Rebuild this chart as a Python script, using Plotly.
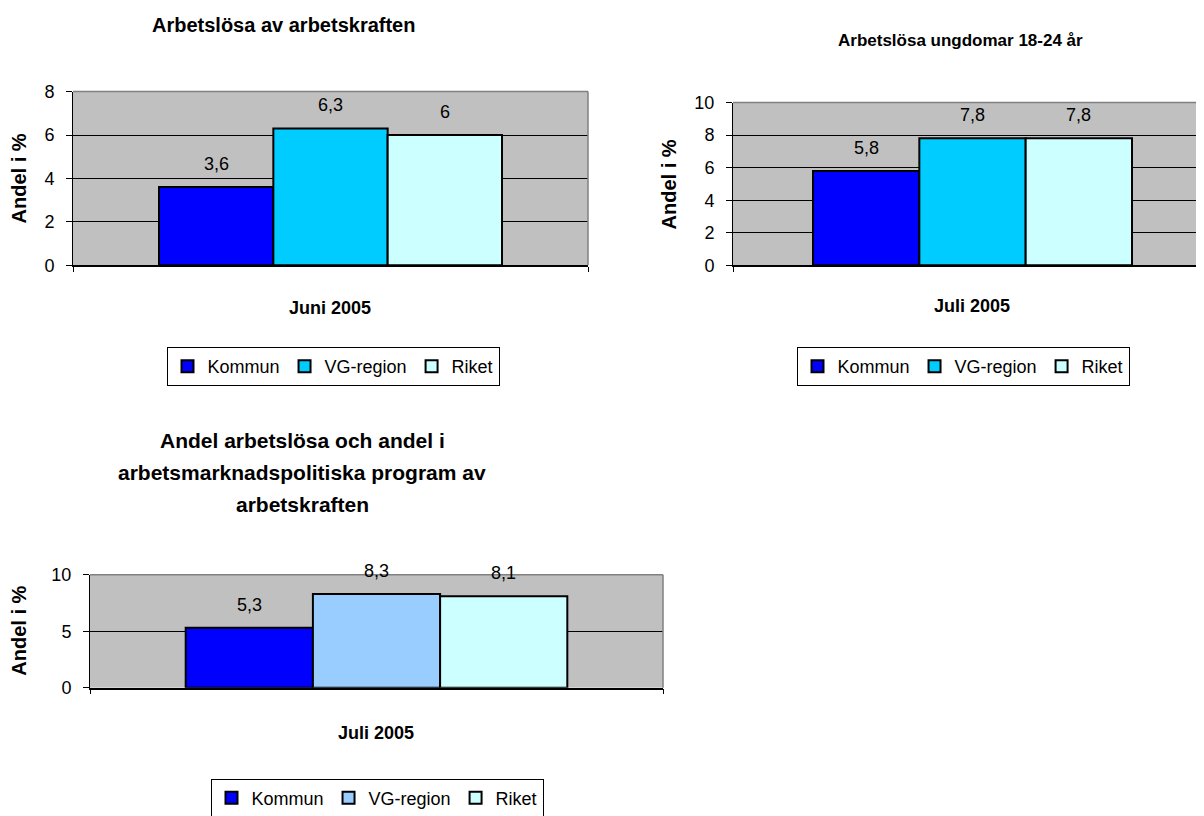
import plotly.graph_objects as go

W, H = 1204, 816
OFF = 8  # default page margin of the html body


def px(x):
    return (x - OFF) / W


def py(y):
    y_eff = (y - 9.5) / 0.977
    return 1 - (y_eff - OFF) / H


# ---------------- data ----------------
series = ["Kommun", "VG-region", "Riket"]

cats1 = ["Juni 2005"]
vals1 = [3.6, 6.3, 6.0]

cats2 = ["Juli 2005"]
vals2 = [5.8, 7.8, 7.8]

cats3 = ["Juli 2005"]
vals3 = [5.3, 8.3, 8.1]

colors_a = ["#0000FF", "#00CCFF", "#CCFFFF"]
colors_b = ["#0000FF", "#99CCFF", "#CCFFFF"]

title1 = "Arbetslösa av arbetskraften"
title2 = "Arbetslösa ungdomar 18-24 år"
title3_lines = ["Andel arbetslösa och andel i",
                "arbetsmarknadspolitiska program av",
                "arbetskraften"]
ytitle = "Andel i %"

FONT = "Liberation Sans, Arial, sans-serif"
BARGAP = 0.334

charts = [
    dict(s="", cats=cats1, vals=vals1, colors=colors_a, legend="legend",
         xdom=[px(73), px(588)], ydom=[py(265), py(91)], yr=[0, 8], dtick=2,
         xr=[-0.5, 0.5], right=True),
    dict(s="2", cats=cats2, vals=vals2, colors=colors_a, legend="legend2",
         xdom=[px(733), 1.0], ydom=[py(265), py(102)], yr=[0, 10], dtick=2,
         xr=[-0.5, 0.5], right=False),
    dict(s="3", cats=cats3, vals=vals3, colors=colors_b, legend="legend3",
         xdom=[px(90), px(663)], ydom=[py(688), py(575)], yr=[0, 10], dtick=5,
         xr=[-0.5, 0.5], right=True),
]

fig = go.Figure()
annotations = []
shapes = []
layout = {}


def fmt(v):
    return ("%g" % v).replace(".", ",")


w = (1 - BARGAP) / len(series)

for c in charts:
    s = c["s"]
    for i, name in enumerate(series):
        fig.add_trace(go.Bar(
            x=c["cats"], y=[c["vals"][i]], name=name,
            marker=dict(color=c["colors"][i], line=dict(color="black", width=2)),
            xaxis="x" + s, yaxis="y" + s, legend=c["legend"],
        ))
        annotations.append(dict(
            x=(i - (len(series) - 1) / 2) * w, y=c["vals"][i],
            xref="x" + s, yref="y" + s, text=fmt(c["vals"][i]),
            showarrow=False, yanchor="middle", yshift=23,
            font=dict(family=FONT, size=18, color="black")))
    layout["xaxis" + s] = dict(
        domain=c["xdom"], anchor="y" + s, range=c["xr"], type="category",
        showticklabels=False, ticks="outside", tickson="boundaries",
        ticklen=5, tickcolor="black", showline=True, linecolor="black",
        linewidth=1.5, showgrid=False, zeroline=False, fixedrange=True)
    layout["yaxis" + s] = dict(
        domain=c["ydom"], anchor="x" + s, range=c["yr"], dtick=c["dtick"],
        ticks="outside", ticklen=6, tickcolor="black", showline=True,
        linecolor="black", linewidth=1, showgrid=True, gridcolor="black",
        gridwidth=1, zeroline=False, ticklabelstandoff=8,
        tickfont=dict(family=FONT, size=18, color="black"), fixedrange=True)
    shapes.append(dict(type="line", xref="x%s domain" % s, yref="y%s domain" % s,
                       x0=0, x1=1, y0=1, y1=1, line=dict(color="#808080", width=1.5)))
    if c["right"]:
        shapes.append(dict(type="line", xref="x%s domain" % s, yref="y%s domain" % s,
                           x0=1, x1=1, y0=0, y1=1, line=dict(color="#808080", width=1.5)))

# titles
annotations.append(dict(x=px(283), y=py(24), xref="paper", yref="paper", text="<b>%s</b>" % title1,
                        showarrow=False, xanchor="center", yanchor="middle",
                        font=dict(family=FONT, size=20, color="black")))
annotations.append(dict(x=px(960), y=py(40), xref="paper", yref="paper", text="<b>%s</b>" % title2,
                        showarrow=False, xanchor="center", yanchor="middle",
                        font=dict(family=FONT, size=17, color="black")))
for line, yy in zip(title3_lines, [440, 473, 505]):
    annotations.append(dict(x=px(302), y=py(yy), xref="paper", yref="paper", text="<b>%s</b>" % line,
                            showarrow=False, xanchor="center", yanchor="middle",
                            font=dict(family=FONT, size=21, color="black")))

# axis titles
for xx, yy in [(19, 178), (669, 184), (19, 631)]:
    annotations.append(dict(x=px(xx), y=py(yy), xref="paper", yref="paper", text="<b>%s</b>" % ytitle,
                            showarrow=False, textangle=-90, xanchor="center", yanchor="middle",
                            font=dict(family=FONT, size=20, color="black")))
for c, xx, yy in [(charts[0], 330, 308), (charts[1], 972, 306), (charts[2], 376, 733)]:
    annotations.append(dict(x=px(xx), y=py(yy), xref="paper", yref="paper",
                            text="<b>%s</b>" % c["cats"][0],
                            showarrow=False, xanchor="center", yanchor="middle",
                            font=dict(family=FONT, size=18, color="black")))

legend_common = dict(orientation="h", xanchor="center", yanchor="top",
                     bordercolor="black", borderwidth=1, bgcolor="white",
                     font=dict(family=FONT, size=18, color="black"),
                     itemwidth=30, traceorder="normal")

fig.update_layout(
    width=W, height=H, autosize=False,
    margin=dict(l=0, r=0, t=0, b=0),
    paper_bgcolor="white", plot_bgcolor="#C0C0C0",
    barmode="group", bargap=BARGAP, bargroupgap=0,
    showlegend=True,
    legend=dict(x=px(333), y=py(347), **legend_common),
    legend2=dict(x=px(963), y=py(347), **legend_common),
    legend3=dict(x=px(377), y=py(779), **legend_common),
    annotations=annotations, shapes=shapes,
    font=dict(family=FONT, color="black"),
    **layout,
)

fig.write_html("out.html")
